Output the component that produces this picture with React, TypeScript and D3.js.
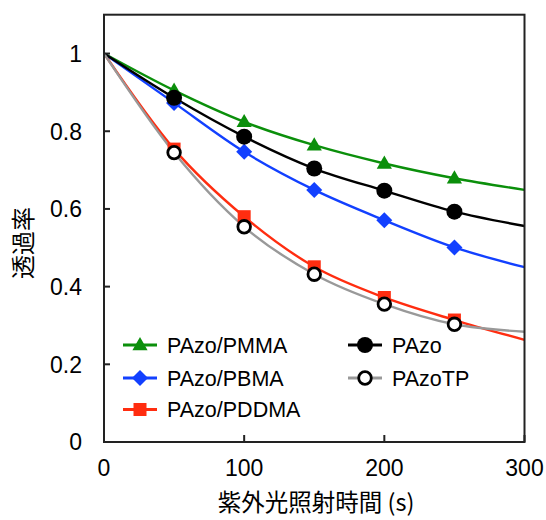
import React from "react";
import * as d3 from "d3";

const times = [0, 50, 100, 150, 200, 250, 300];
const markerTimes = [50, 100, 150, 200, 250];

const seriesNames = ["PAzo/PMMA", "PAzo/PBMA", "PAzo/PDDMA", "PAzo", "PAzoTP"];
const pmma = [1, 0.905, 0.824, 0.764, 0.717, 0.679, 0.649];
const pbma = [1, 0.873, 0.747, 0.649, 0.571, 0.501, 0.45];
const pddma = [1, 0.754, 0.58, 0.451, 0.372, 0.314, 0.263];
const pazo = [1, 0.886, 0.786, 0.704, 0.647, 0.593, 0.556];
const pazotp = [1, 0.745, 0.554, 0.432, 0.355, 0.303, 0.284];

const xTicks = [0, 100, 200, 300];
const yTicks = [0, 0.2, 0.4, 0.6, 0.8, 1];

const W = 546;
const H = 520;
const LEFT = 104;
const RIGHT = 524.5;
const TOP = 14.7;
const BOTTOM = 442;

const colors = ["#0b8f0b", "#1240ff", "#ff2d10", "#000000", "#999999"];
const shapes = ["triangle", "diamond", "square", "circle", "open"];
const allValues = [pmma, pbma, pddma, pazo, pazotp];

const FONT = "'Liberation Sans', Arial, sans-serif";
const CJK = "'Noto Sans CJK JP', 'Noto Sans', sans-serif";

function Marker({ shape, color, x, y }: { shape: string; color: string; x: number; y: number }) {
  if (shape === "triangle") {
    const s = 8;
    return (
      <path
        d={`M${x},${y - s} L${x + s * 0.95},${y + s * 0.65} L${x - s * 0.95},${y + s * 0.65} Z`}
        fill={color}
      />
    );
  }
  if (shape === "diamond") {
    const s = 8;
    return <path d={`M${x},${y - s} L${x + s},${y} L${x},${y + s} L${x - s},${y} Z`} fill={color} />;
  }
  if (shape === "square") {
    const s = 6.5;
    return <rect x={x - s} y={y - s} width={2 * s} height={2 * s} fill={color} />;
  }
  if (shape === "circle") {
    return <circle cx={x} cy={y} r={8} fill={color} />;
  }
  return <circle cx={x} cy={y} r={6.3} fill="#ffffff" stroke="#000000" strokeWidth={2.8} />;
}

export default function App() {
  const x = d3.scaleLinear().domain([0, 300]).range([LEFT, RIGHT]);
  const y = d3.scaleLinear().domain([0, 1.1]).range([BOTTOM, TOP]);

  const line = d3
    .line<[number, number]>()
    .x((d) => x(d[0]))
    .y((d) => y(d[1]))
    .curve(d3.curveMonotoneX);

  const legendItems = [
    { i: 0, lx: 123, ly: 345 },
    { i: 1, lx: 123, ly: 378 },
    { i: 2, lx: 123, ly: 409.5 },
    { i: 3, lx: 348, ly: 345 },
    { i: 4, lx: 348, ly: 378 },
  ];

  return (
    <svg width={W} height={H} style={{ position: "absolute", left: 0, top: 0, background: "#fff" }}>
      <rect x={0} y={0} width={W} height={H} fill="#ffffff" />
      {allValues.map((vals, i) => (
        <path
          key={"l" + i}
          d={line(times.map((t, k) => [t, vals[k]] as [number, number])) || ""}
          fill="none"
          stroke={colors[i]}
          strokeWidth={2.4}
        />
      ))}
      {allValues.map((vals, i) =>
        markerTimes.map((t) => {
          const k = times.indexOf(t);
          return <Marker key={"m" + i + "-" + t} shape={shapes[i]} color={colors[i]} x={x(t)} y={y(vals[k])} />;
        })
      )}
      <rect x={LEFT} y={TOP} width={RIGHT - LEFT} height={BOTTOM - TOP} fill="none" stroke="#222" strokeWidth={2} />
      {yTicks.map((v) => (
        <g key={"yt" + v}>
          <line x1={LEFT} x2={LEFT + 6} y1={y(v)} y2={y(v)} stroke="#222" strokeWidth={2} />
          <text x={82} y={y(v)} dy="0.36em" textAnchor="end" fontFamily={FONT} fontSize={23} fill="#000">
            {d3.format("~g")(v)}
          </text>
        </g>
      ))}
      {xTicks.map((v) => (
        <g key={"xt" + v}>
          <line x1={x(v)} x2={x(v)} y1={BOTTOM} y2={BOTTOM - 7} stroke="#222" strokeWidth={2} />
          <text x={x(v)} y={476} textAnchor="middle" fontFamily={FONT} fontSize={23} fill="#000">
            {v}
          </text>
        </g>
      ))}
      <text x={316} y={511} textAnchor="middle" fontFamily={CJK} fontSize={23.5} fill="#000">
        紫外光照射時間 (s)
      </text>
      <text
        transform={`translate(32, 243) rotate(-90)`}
        textAnchor="middle"
        fontFamily={CJK}
        fontSize={24}
        fill="#000"
      >
        透過率
      </text>
      {legendItems.map(({ i, lx, ly }) => (
        <g key={"lg" + i}>
          <line x1={lx} x2={lx + 34} y1={ly} y2={ly} stroke={colors[i]} strokeWidth={3} />
          <Marker shape={shapes[i]} color={colors[i]} x={lx + 17} y={ly} />
          <text x={lx + 44} y={ly} dy="0.36em" fontFamily={FONT} fontSize={21.5} fill="#000">
            {seriesNames[i]}
          </text>
        </g>
      ))}
    </svg>
  );
}
